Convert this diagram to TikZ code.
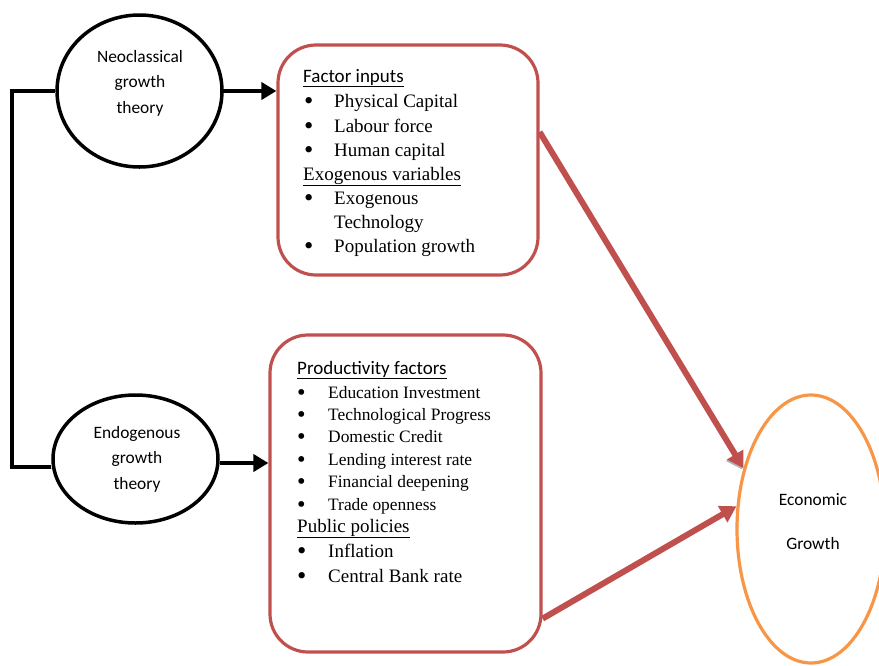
\documentclass[tikz,border=0pt]{standalone}
\usepackage{fontspec}
\setmainfont{Liberation Serif}
\newfontfamily\calibri{Carlito}
\usetikzlibrary{shapes.geometric,arrows.meta}
\definecolor{boxred}{HTML}{C0504D}
\definecolor{ecoorange}{HTML}{F79646}
\newcommand\bul{\raisebox{-2.2pt}{\scalebox{1.4}{\textbullet}}}

\begin{document}
\begin{tikzpicture}[x=1pt,y=-1pt,
  theory/.style={ellipse,draw,line width=3.5pt,inner sep=0pt},
  sans/.style={font=\calibri\fontsize{17.4}{25.5}\selectfont,align=center},
  factorbox/.style={draw=boxred,line width=3.2pt,rounded corners=38pt,inner sep=0pt},
  head/.style={anchor=base west,inner sep=0pt,font=\calibri\fontsize{19}{24}\selectfont},
  subhead/.style={anchor=base west,inner sep=0pt,font=\fontsize{19}{24}\selectfont},
  item/.style={anchor=base west,inner sep=0pt,font=\fontsize{19}{24}\selectfont},
  smallitem/.style={anchor=base west,inner sep=0pt,font=\fontsize{17.4}{22}\selectfont},
  shadowed/.style={preaction={draw=black!30,transform canvas={shift={(1pt,-1.5pt)}}}},
  blackarrow/.style={line width=4.5pt,-{Triangle[length=15pt,width=17pt]}},
  redarrow/.style={draw=boxred,line width=6pt,-{Triangle[length=16pt,width=18pt]},boxred}]
\useasboundingbox (0,0) rectangle (879,665);
%================================================================
%	Theories
\node[theory,minimum width=165pt,minimum height=152pt] (neo) at (139.5,91) {};
\node[sans] (neotxt) at (140,83) {Neoclassical\\growth\\theory};
\node[theory,minimum width=165pt,minimum height=128pt] (endo) at (135.5,459) {};
\node[sans] (endotxt) at (137,459) {Endogenous\\growth\\theory};
%----------------------------------------------------------------
\node[ellipse,draw=ecoorange,line width=3.2pt,inner sep=0pt,minimum width=148pt,minimum height=268pt] (eco) at (811,529) {};
\node[sans,font=\calibri\fontsize{17.4}{44}\selectfont] (ecotxt) at (813,522) {Economic\\Growth};

%================================================================
%	Boxes
\node[factorbox,minimum width=260pt,minimum height=230pt] (box1) at (408,160) {};
\node[factorbox,minimum width=271pt,minimum height=317pt] (box2) at (405.5,493.5) {};
%----------------------------------------------------------------
\node[head] (fin) at (303,82) {\underline{Factor inputs}};
\foreach \y/\t [count=\i] in {107/Physical Capital,132/Labour force,156/Human capital,204/Exogenous,252/Population growth}
  \node[item] (fi\i) at (304,\y) {\makebox[30pt][l]{\bul}\t};
\node[item] (fi6) at (334,228) {Technology};
\node[subhead] (exo) at (303,180) {\underline{Exogenous variables}};
%----------------------------------------------------------------
\node[head] (pf) at (297,374) {\underline{Productivity factors}};
\foreach \y/\t [count=\i] in {398/Education Investment,420/Technological Progress,442/Domestic Credit,465/Lending interest rate,487/Financial deepening,510/Trade openness}
  \node[smallitem] (pi\i) at (297,\y) {\makebox[31pt][l]{\bul}\t};
\node[subhead] (pp) at (297,532) {\underline{Public policies}};
\node[item] (pp1) at (297,557) {\makebox[31pt][l]{\bul}Inflation};
\node[item] (pp2) at (297,582) {\makebox[31pt][l]{\bul}Central Bank rate};

%================================================================
%	Lines
\coordinate (bk) at (12,91);
\draw[line width=3.5pt,shadowed] (neo.west) -- (bk) |- ([yshift=-8pt]endo.west);
%----------------------------------------------------------------
\draw[blackarrow] ([xshift=-3pt]neo.east) -- (neo.east -| box1.west);
\draw[blackarrow] ([yshift=-4pt]endo.east) -- ([yshift=-4pt]endo.east -| box2.west);
%----------------------------------------------------------------
\draw[redarrow,preaction={draw=black!30,transform canvas={shift={(-1pt,-1.5pt)}}}] ([yshift=28pt]box1.east) -- (eco.138);
\draw[redarrow] ([yshift=35pt]box2.south east) -- (eco.163);
%================================================================
\end{tikzpicture}
\end{document}
